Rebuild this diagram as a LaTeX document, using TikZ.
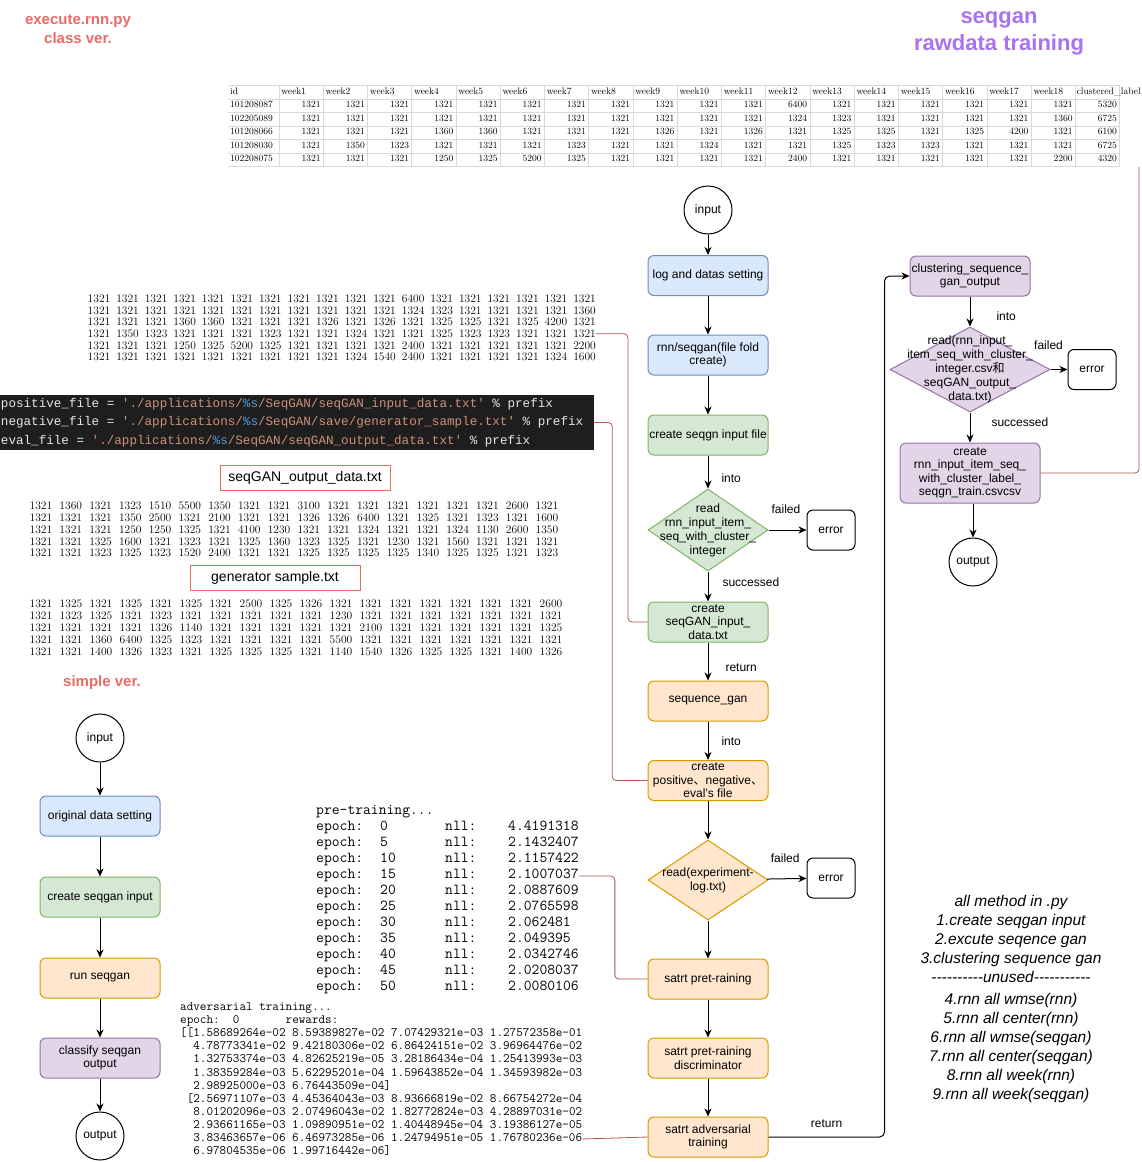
\documentclass[tikz,border=0pt]{standalone}
\usepackage{fontspec}
\setsansfont{Liberation Sans}
\newfontfamily\cjk{Noto Sans CJK SC}
\newfontfamily\codefont{Liberation Mono}[Ligatures=TeXOff]
\newfontfamily\notefont{Liberation Sans}[Ligatures=TeXOff]
\usetikzlibrary{shapes.geometric, arrows.meta}

\definecolor{bluefill}{HTML}{DAE8FC}
\definecolor{blueline}{HTML}{6C8EBF}
\definecolor{greenfill}{HTML}{D5E8D4}
\definecolor{greenline}{HTML}{82B366}
\definecolor{orangefill}{HTML}{FFE6CC}
\definecolor{orangeline}{HTML}{D79B00}
\definecolor{purplefill}{HTML}{E1D5E7}
\definecolor{purpleline}{HTML}{9673A6}
\definecolor{linkred}{HTML}{B85450}
\definecolor{titlered}{HTML}{EA6B66}
\definecolor{titlepurple}{HTML}{A873EC}
\definecolor{codebg}{HTML}{1E1E1E}
\definecolor{codetxt}{HTML}{E6E6E6}
\definecolor{codestr}{HTML}{CE9178}
\definecolor{codefmt}{HTML}{569CD6}
\definecolor{gridgray}{HTML}{D9D9D9}

\newcommand{\fsz}[2]{\fontsize{#1}{#2}\selectfont}
\newcommand{\sk}{\hbox to 0.6em{}}
\newcommand{\gridrow}[5]{%
  \foreach \v [count=\k from 0] in {#5}
    \node[gridnum] (#1-\k) at ({#2+\k*#4},#3) {\v};%
}

\tikzset{
  base/.style={draw, line width=1pt, align=center, font=\sffamily\fsz{12}{13.5}},
  box/.style={base, rounded corners=6pt, minimum width=120pt, minimum height=40pt, inner sep=1pt},
  bluebox/.style={box, fill=bluefill, draw=blueline},
  greenbox/.style={box, fill=greenfill, draw=greenline},
  orangebox/.style={box, fill=orangefill, draw=orangeline},
  purplebox/.style={box, fill=purplefill, draw=purpleline},
  errbox/.style={box, fill=white, minimum width=48pt},
  term/.style={base, circle, minimum size=48pt, inner sep=0pt},
  decision/.style={base, diamond, inner sep=0pt},
  dectext/.style={align=center, font=\sffamily\fsz{12}{14}, inner sep=0pt},
  arr/.style={line width=1pt, -{Stealth[length=8pt, width=7pt, inset=2.5pt]}},
  lbl/.style={font=\sffamily\fsz{12}{14}, inner sep=1pt},
  redlink/.style={draw=linkred, line width=0.8pt, rounded corners=4pt},
  filetag/.style={draw=titlered, line width=1pt, minimum width=170pt, minimum height=25pt, font=\sffamily\fsz{14}{16}, inner sep=0pt},
  gridnum/.style={font=\rmfamily\fsz{11.5}{12}, inner sep=0pt},
  cell/.style={font=\rmfamily\fsz{9.5}{10}, inner sep=0pt, text height=0.7em, text depth=0.2em},
  gridline/.style={draw=gridgray, line width=0.6pt},
  console/.style={font=\ttfamily\fsz{15.2}{16}, inner sep=0pt, anchor=west, text height=0.7em, text depth=0.2em},
  advline/.style={font=\ttfamily\fsz{12.8}{13}, inner sep=0pt, anchor=west, text height=0.7em, text depth=0.2em},
  heading/.style={font=\sffamily\bfseries\fsz{15}{19}, text=titlered, align=center, inner sep=0pt},
  bigheading/.style={font=\sffamily\bfseries\fsz{22}{27}, text=titlepurple, align=center, inner sep=0pt},
  notes/.style={font=\notefont\itshape\fsz{15.5}{19}, align=center, inner sep=0pt},
  codebox/.style={fill=codebg, text=codetxt, minimum width=594pt, minimum height=55pt, text width=592pt, align=left, inner sep=1pt, font=\codefont\fsz{12.6}{18.5}}
}

\begin{document}
\begin{tikzpicture}[x=1pt, y=-1pt]
\useasboundingbox (0,0) rectangle (1142,1162);
\fill[white] (0,0) rectangle (1142,1162);

\node[heading] (classver) at (78,29.5) {execute.rnn.py\\class ver.};
\node[bigheading] (rawtitle) at (999,33) {seqgan\\rawdata training};
\node[heading] (simplever) at (102,683) {simple ver.};

\foreach \k in {0,...,19}
  \draw[gridline] ({279+\k*44.24},85.5) -- ({279+\k*44.24},166.5);
\foreach \r in {0,...,6}
  \draw[gridline] (228,{85.5+\r*13.5}) -- (1120,{85.5+\r*13.5});
\node[cell, anchor=west] (idhead) at (230,92) {id};
\foreach \c in {1,...,18}
  \node[cell, anchor=west] (head\c) at ({237+\c*44.24},92) {week\c};
\node[cell, anchor=west] (head19) at ({236+19*44.24},92) {clustered\_label};
\foreach \rw [count=\r from 0] in {
  {101208087,1321,1321,1321,1321,1321,1321,1321,1321,1321,1321,1321,6400,1321,1321,1321,1321,1321,1321,5320},
  {102205089,1321,1321,1321,1321,1321,1321,1321,1321,1321,1321,1321,1324,1323,1321,1321,1321,1321,1360,6725},
  {101208066,1321,1321,1321,1360,1360,1321,1321,1321,1326,1321,1326,1321,1325,1325,1321,1325,4200,1321,6100},
  {101208030,1321,1350,1323,1321,1321,1321,1323,1321,1321,1324,1321,1321,1325,1323,1323,1321,1321,1321,6725},
  {102208075,1321,1321,1321,1250,1325,5200,1325,1321,1321,1321,1321,2400,1321,1321,1321,1321,1321,2200,4320}}
  \foreach \v [count=\c from 0] in \rw {
    \ifnum\c=0
      \node[cell, anchor=west] (id\r) at (230,{105+\r*13.5}) {\v};
    \else
      \node[cell, anchor=east] (cell\r-\c) at ({276.5+\c*44.24},{105+\r*13.5}) {\v};
    \fi
  }
\coordinate (tblend) at (1139,167);

\gridrow{b1r1}{99}{299}{28.56}{1321,1321,1321,1321,1321,1321,1321,1321,1321,1321,1321,6400,1321,1321,1321,1321,1321,1321}
\gridrow{b1r2}{99}{310.6}{28.56}{1321,1321,1321,1321,1321,1321,1321,1321,1321,1321,1321,1324,1323,1321,1321,1321,1321,1360}
\gridrow{b1r3}{99}{322.2}{28.56}{1321,1321,1321,1360,1360,1321,1321,1321,1326,1321,1326,1321,1325,1325,1321,1325,4200,1321}
\gridrow{b1r4}{99}{333.8}{28.56}{1321,1350,1323,1321,1321,1321,1323,1321,1321,1324,1321,1321,1325,1323,1323,1321,1321,1321}
\gridrow{b1r5}{99}{345.4}{28.56}{1321,1321,1321,1250,1325,5200,1325,1321,1321,1321,1321,2400,1321,1321,1321,1321,1321,2200}
\gridrow{b1r6}{99}{357}{28.56}{1321,1321,1321,1321,1321,1321,1321,1321,1321,1324,1540,2400,1321,1321,1321,1321,1324,1600}

\node[codebox] (code) at (297,422.5) {%
positive\_file\sk=\sk{\color{codestr}'./applications/}{\color{codefmt}\%s}{\color{codestr}/SeqGAN/seqGAN\_input\_data.txt'}\sk\%\sk prefix\\
negative\_file\sk=\sk{\color{codestr}'./applications/}{\color{codefmt}\%s}{\color{codestr}/SeqGAN/save/generator\_sample.txt'}\sk\%\sk prefix\\
eval\_file\sk=\sk{\color{codestr}'./applications/}{\color{codefmt}\%s}{\color{codestr}/SeqGAN/seqGAN\_output\_data.txt'}\sk\%\sk prefix};

\node[filetag] (outtag) at (305,477.5) {seqGAN\_output\_data.txt};
\gridrow{b2r1}{41}{506}{29.76}{1321,1360,1321,1323,1510,5500,1350,1321,1321,3100,1321,1321,1321,1321,1321,1321,2600,1321}
\gridrow{b2r2}{41}{517.8}{29.76}{1321,1321,1321,1350,2500,1321,2100,1321,1321,1326,1326,6400,1321,1325,1321,1323,1321,1600}
\gridrow{b2r3}{41}{529.6}{29.76}{1321,1321,1321,1250,1250,1325,1321,4100,1230,1321,1321,1324,1321,1321,1324,1130,2600,1350}
\gridrow{b2r4}{41}{541.4}{29.76}{1321,1321,1325,1600,1321,1323,1321,1325,1360,1323,1325,1321,1230,1321,1560,1321,1321,1321}
\gridrow{b2r5}{41}{553.2}{29.76}{1321,1321,1323,1325,1323,1520,2400,1321,1321,1325,1325,1325,1325,1340,1325,1325,1321,1323}

\node[filetag] (gentag) at (275,577.5) {generator sample.txt};
\gridrow{b3r1}{41}{604}{30}{1321,1325,1321,1325,1321,1325,1321,2500,1325,1326,1321,1321,1321,1321,1321,1321,1321,2600}
\gridrow{b3r2}{41}{616}{30}{1321,1323,1325,1321,1323,1321,1321,1321,1321,1321,1230,1321,1321,1321,1321,1321,1321,1321}
\gridrow{b3r3}{41}{628}{30}{1321,1321,1321,1321,1326,1140,1321,1321,1321,1321,1321,2100,1321,1321,1321,1321,1321,1325}
\gridrow{b3r4}{41}{640}{30}{1321,1321,1360,6400,1325,1323,1321,1321,1321,1321,5500,1321,1321,1321,1321,1321,1321,1321}
\gridrow{b3r5}{41}{652}{30}{1321,1321,1400,1326,1323,1321,1325,1325,1325,1321,1140,1540,1326,1325,1325,1321,1400,1326}

\node[console] (pretitle) at (316,812) {pre-training...};
\foreach \ep/\val [count=\i] in {0/4.4191318, 5/2.1432407, 10/2.1157422, 15/2.1007037, 20/2.0887609, 25/2.0765598, 30/2.062481, 35/2.049395, 40/2.0342746, 45/2.0208037, 50/2.0080106} {
  \node[console] (ep\i) at (316,{812+\i*16}) {epoch:};
  \node[console] (epn\i) at (380,{812+\i*16}) {\ep};
  \node[console] (nl\i) at (445,{812+\i*16}) {nll:};
  \node[console] (nll\i) at (508,{812+\i*16}) {\val};
}

\node[advline] (adv0) at (180,1008) {adversarial training...};
\foreach \t [count=\i] in {
  epoch:~~0~~~~~~~rewards:,
  [[1.58689264e-02 8.59389827e-02 7.07429321e-03 1.27572358e-01,
  ~~4.78773341e-02 9.42180306e-02 6.86424151e-02 3.96964476e-02,
  ~~1.32753374e-03 4.82625219e-05 3.28186434e-04 1.25413993e-03,
  ~~1.38359284e-03 5.62295201e-04 1.59643852e-04 1.34593982e-03,
  ~~2.98925000e-03 6.76443509e-04],
  ~[2.56971107e-03 4.45364043e-03 8.93666819e-02 8.66754272e-04,
  ~~8.01202096e-03 2.07496043e-02 1.82772824e-03 4.28897031e-02,
  ~~2.93661165e-03 1.09890951e-02 1.40448945e-04 3.19386127e-05,
  ~~3.83463657e-06 6.46973285e-06 1.24794951e-05 1.76780236e-06,
  ~~6.97804535e-06 1.99716442e-06]}
  \node[advline] (adv\i) at (180,{1008+\i*13.1}) {\t};

\node[term] (in1) at (708,210) {input};
\node[bluebox] (log) at (708,275.5) {log and datas setting};
\node[bluebox] (fold) at (708,355) {rnn/seqgan(file fold\\create)};
\node[greenbox] (seqin) at (708,435) {create seqgn input file};
\node[decision, fill=greenfill, draw=greenline, minimum width=120pt, minimum height=82pt] (readA) at (708,530) {};
\node[dectext] (readAtxt) at (readA) {read\\rnn\_input\_item\_\\seq\_with\_cluster\_\\integer};
\node[errbox] (errA) at (831,530) {error};
\node[greenbox] (mkin) at (708,622) {create\\seqGAN\_input\_\\data.txt};
\node[orangebox] (seqgan) at (708,701) {sequence\_gan};
\node[orangebox] (mkpn) at (708,780.5) {create\\positive{\cjk 、}negative{\cjk 、}\\eval's file};
\node[decision, fill=orangefill, draw=orangeline, minimum width=120pt, minimum height=80pt] (readB) at (708,880) {};
\node[dectext] (readBtxt) at (readB) {read(experiment-\\log.txt)};
\node[errbox] (errB) at (831,878) {error};
\node[orangebox] (pre) at (708,979) {satrt pret-raining};
\node[orangebox] (preD) at (708,1058) {satrt pret-raining\\discriminator};
\node[orangebox] (advt) at (708,1137) {satrt adversarial\\training};

\node[purplebox] (clus) at (970,276) {clustering\_sequence\_\\gan\_output};
\node[decision, fill=purplefill, draw=purpleline, minimum width=160pt, minimum height=85pt] (readC) at (970,369.5) {};
\node[dectext] (readCtxt) at (readC) {read(rnn\_input\_\\item\_seq\_with\_cluster\_\\integer.csv{\cjk 和}\\seqGAN\_output\_\\data.txt)};
\node[errbox] (errC) at (1092,369.5) {error};
\node[purplebox, minimum width=140pt, minimum height=60pt] (mk2) at (970,473) {create\\rnn\_input\_item\_seq\_\\with\_cluster\_label\_\\seqgn\_train.csvcsv};
\node[term] (out2) at (973,562) {output};

\node[term] (in2) at (100,738) {input};
\node[bluebox] (orig) at (100,816) {original data setting};
\node[greenbox] (mkseq) at (100,897) {create seqgan input};
\node[orangebox] (runseq) at (100,978) {run seqgan};
\node[purplebox] (classify) at (100,1058) {classify seqgan\\output};
\node[term] (out1) at (100,1136) {output};

\node[notes] (methods) at (1011,998.5) {all method in .py\\1.create seqgan input\\2.excute seqence gan\\3.clustering sequence gan\\----------unused-----------\\[3pt]4.rnn all wmse(rnn)\\5.rnn all center(rnn)\\6.rnn all wmse(seqgan)\\7.rnn all center(seqgan)\\8.rnn all week(rnn)\\9.rnn all week(seqgan)};

\draw[arr] (in1) -- (log);
\draw[arr] (log) -- (fold);
\draw[arr] (fold) -- (seqin);
\draw[arr] (seqin) -- node[lbl, pos=.68, right=12pt] {into} (readA);
\draw[arr] (readA) -- node[lbl, pos=.46, above=15pt] {failed} (errA);
\draw[arr] (readA) -- node[lbl, pos=.35, right=13pt] {successed} (mkin);
\draw[arr] (mkin) -- node[lbl, pos=.67, right=16pt] {return} (seqgan);
\draw[arr] (seqgan) -- node[lbl, right=12pt] {into} (mkpn);
\draw[arr] (mkpn) -- (readB);
\draw[arr] (readB) -- node[lbl, pos=.46, above=15pt] {failed} (errB);
\draw[arr] (readB) -- (pre);
\draw[arr] (pre) -- (preD);
\draw[arr] (preD) -- (advt);
\draw[arr, rounded corners=5pt] (advt.east) -- node[lbl, above=8pt] {return} ++(116,0) |- (clus.west);

\draw[arr] (clus) -- node[lbl, pos=.65, right=25pt] {into} (readC);
\draw[arr] (readC) -- node[lbl, pos=0, above=18pt, xshift=-2pt] {failed} (errC);
\draw[arr] (readC) -- node[lbl, pos=.32, right=20pt] {successed} (mk2);
\draw[arr] (mk2.south -| out2) -- (out2);

\draw[arr] (in2) -- (orig);
\draw[arr] (orig) -- (mkseq);
\draw[arr] (mkseq) -- (runseq);
\draw[arr] (runseq) -- (classify);
\draw[arr] (classify) -- (out1);

\draw[redlink] (b1r4-17.east) -- ++(32,0) |- (mkin.west);
\draw[redlink] (code.east) -- ++(18,0) |- (mkpn.west);
\draw[redlink] (nll4.east) -- ++(36,0) |- (pre.west);
\draw[redlink] (adv10.east) -- (advt.west);
\draw[redlink] (mk2.east) -| (tblend);
\end{tikzpicture}
\end{document}
